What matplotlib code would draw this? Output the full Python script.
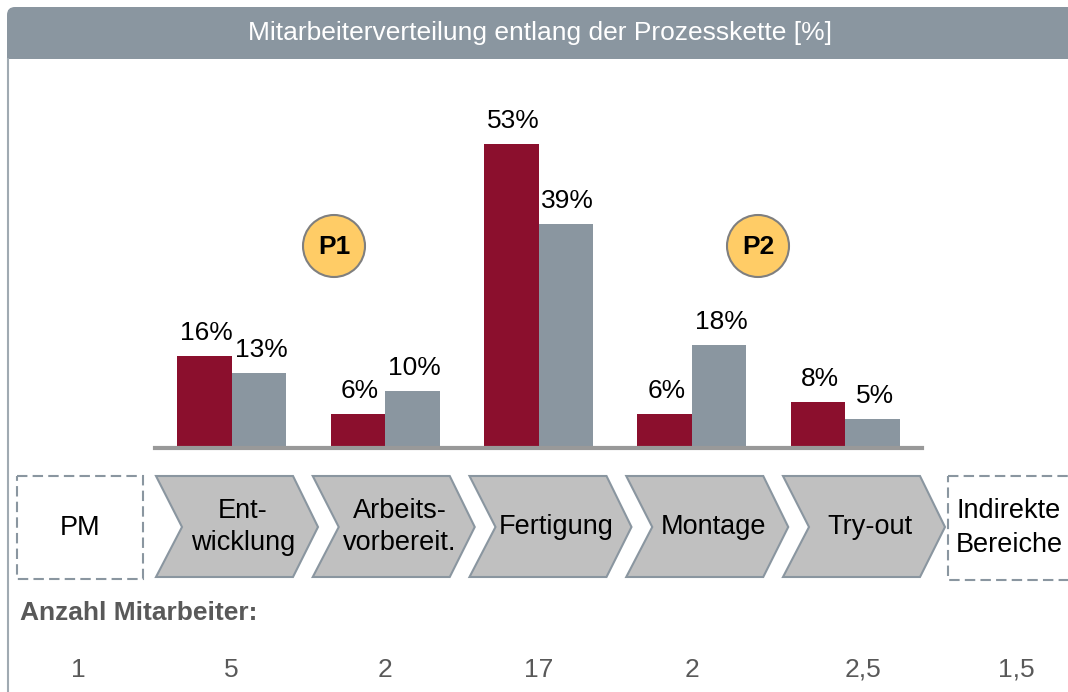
import matplotlib

matplotlib.use('Agg')
import matplotlib.pyplot as plt
from matplotlib.patches import Polygon, Rectangle, FancyBboxPatch, Circle
import numpy as np

plt.rcParams['font.family'] = ['Liberation Sans', 'DejaVu Sans']

# Daten
title = 'Mitarbeiterverteilung entlang der Prozesskette [%]'
steps = ['Ent-\nwicklung', 'Arbeits-\nvorbereit.', 'Fertigung', 'Montage', 'Try-out']
share_p1 = [16, 6, 53, 6, 8]
share_p2 = [13, 10, 39, 18, 5]
side_boxes = ['PM', 'Indirekte\nBereiche']
markers = ['P1', 'P2']
count_title = 'Anzahl Mitarbeiter:'
count_labels = ['1', '5', '2', '17', '2', '2,5', '1,5']

RED = '#8B0F2D'
GREY = '#8A96A0'
TEXT_GREY = '#595959'


def main():
    W, H = 1068, 692
    fig = plt.figure(figsize=(W / 100, H / 100), dpi=100, facecolor='white')

    # Overlay in Pixel-Koordinaten
    ax0 = fig.add_axes([0, 0, 1, 1])
    ax0.set_xlim(0, W)
    ax0.set_ylim(H, 0)
    ax0.axis('off')

    # Kopfzeile
    ax0.add_patch(FancyBboxPatch((7, 7), 1090, 52, boxstyle='round,pad=0,rounding_size=8',
                                 fc=GREY, ec='none'))
    ax0.add_patch(Rectangle((7, 30), 1090, 29, fc=GREY, ec='none'))
    ax0.text(540, 33, title, color='white', fontsize=19, ha='center', va='center')
    ax0.plot([8, 8], [59, H], color='#A0AAB2', lw=1.5)

    # Balken
    axb = fig.add_axes([155 / W, (H - 448) / H, 767 / W, 344 / H])
    x = np.arange(len(steps))
    w = 0.355
    axb.bar(x - w / 2, share_p1, w, color=RED)
    axb.bar(x + w / 2, share_p2, w, color=GREY)
    axb.set_xlim(-0.5, len(steps) - 0.5)
    axb.set_ylim(0, 60)
    axb.axis('off')
    axb.axhline(0, color='#999999', lw=3, zorder=3, clip_on=False)
    for xi, v in zip(x - w / 2, share_p1):
        axb.annotate(f'{v}%', (xi, v), xytext=(1.5, 11.5), textcoords='offset points',
                     ha='center', va='baseline', fontsize=19)
    for xi, v in zip(x + w / 2, share_p2):
        axb.annotate(f'{v}%', (xi, v), xytext=(1.5, 11.5), textcoords='offset points',
                     ha='center', va='baseline', fontsize=19)

    # P1 / P2 Kreise
    for (cx, cy), m in zip([(334, 246), (758, 246)], markers):
        ax0.add_patch(Circle((cx, cy), 31, fc='#FFCC66', ec='#7F7F7F', lw=1.5))
        ax0.text(cx, cy + 1, m, fontsize=19, fontweight='bold', ha='center', va='center')

    # Prozesskette
    top, mid, bot = 476, 527, 577
    for i, name in enumerate(steps):
        x0 = 156 + 156.75 * i
        pts = [(x0, top), (x0 + 137, top), (x0 + 162, mid), (x0 + 137, bot), (x0, bot), (x0 + 26, mid)]
        ax0.add_patch(Polygon(pts, closed=True, fc='#C0C0C0', ec=GREY, lw=1.5))
        ax0.text(x0 + 87, mid, name, fontsize=19.5, ha='center', va='center', linespacing=1.35)

    # gestrichelte Boxen
    ax0.add_patch(Rectangle((17, 476), 126, 103, fill=False, ec=GREY, lw=1.5, ls=(0, (5, 2.5))))
    ax0.text(80, 528, side_boxes[0], fontsize=19.5, ha='center', va='center')
    ax0.add_patch(Rectangle((948, 476), 140, 104, fill=False, ec=GREY, lw=1.5, ls=(0, (5, 2.5))))
    ax0.text(1009, 528, side_boxes[1], fontsize=19.5, ha='center', va='center', linespacing=1.35)

    # Anzahl Mitarbeiter
    ax0.text(20, 613, count_title, fontsize=19, fontweight='bold', color=TEXT_GREY, ha='left', va='center')
    count_x = [78, 231, 385, 539, 692, 863, 1016]
    for cx, lab in zip(count_x, count_labels):
        ax0.text(cx, 670, lab, fontsize=19, color=TEXT_GREY, ha='center', va='center')

    fig.savefig('out.png', dpi=100)


if __name__ == '__main__':
    main()
